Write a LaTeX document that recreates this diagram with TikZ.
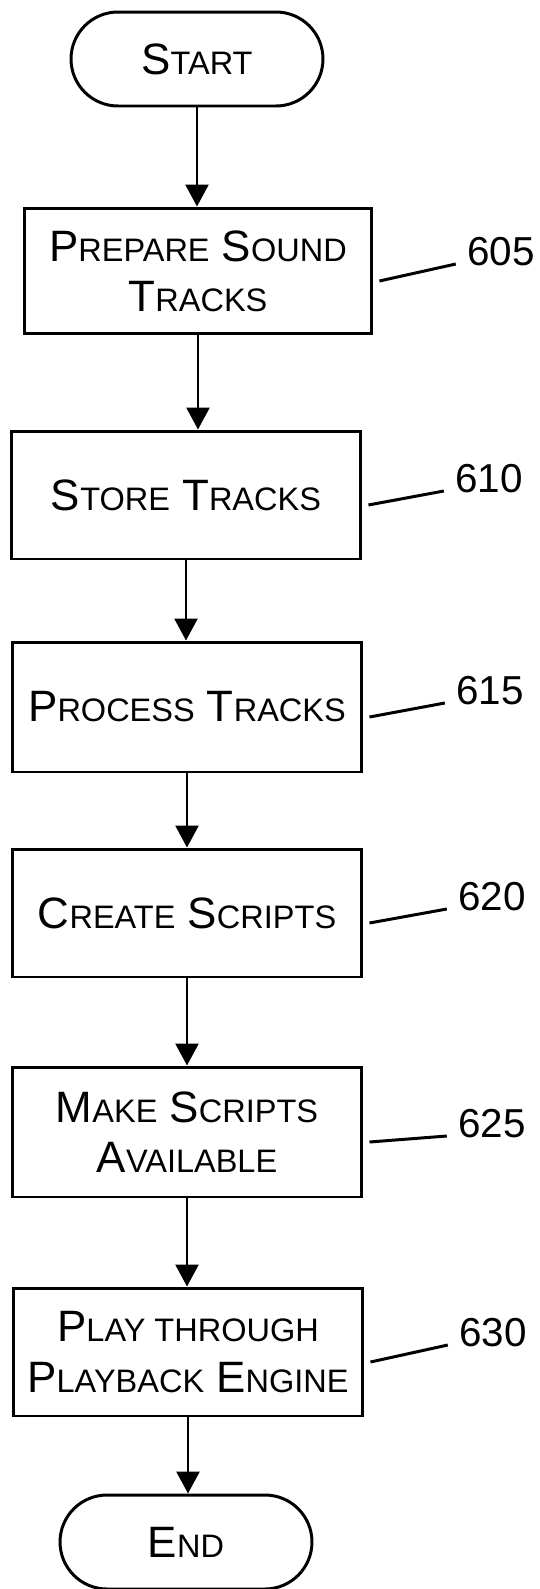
\documentclass[tikz,border=0pt]{standalone}
\usepackage{fontspec}
\setmainfont{Liberation Sans}
\usepackage{tikz}
\usetikzlibrary{arrows.meta}
\usetikzlibrary{positioning}
\usetikzlibrary{calc}
\newcommand{\smc}[1]{{\fontsize{18.5}{28.5}\selectfont #1}}
\tikzstyle{stepbox}=[draw,rectangle,minimum width=7cm,minimum height=2.56cm,inner sep=1pt,align=center,font=\fontsize{25}{28.5}\selectfont]
\tikzstyle{terminal}=[draw,rectangle,rounded corners=0.94cm,minimum width=5.04cm,minimum height=1.88cm,inner sep=1pt,font=\fontsize{25}{28.5}\selectfont]
\tikzstyle{refnum}=[font=\fontsize{23}{26}\selectfont,inner sep=0pt]
\tikzstyle{flow}=[-{Triangle[length=12.5pt,width=13pt]}]

\begin{document}
\begin{tikzpicture}[x=0.02cm,y=-0.02cm,line width=1.7pt]
\useasboundingbox (0,0) rectangle (540,1589);
    \node [terminal] (start) at (197,59) {S\smc{TART}};
    \node [stepbox,minimum width=6.96cm,minimum height=2.52cm] (s605) at (198,271)
      {P\smc{REPARE} S\smc{OUND}\\T\smc{RACKS}};
    \node [stepbox] (s610) at (186,495) {S\smc{TORE} T\smc{RACKS}};
    \node [stepbox,minimum height=2.6cm] (s615) at (187,707) {P\smc{ROCESS} T\smc{RACKS}};
    \node [stepbox] (s620) at (187,913) {C\smc{REATE} S\smc{CRIPTS}};
    \node [stepbox,minimum height=2.6cm] (s625) at (187,1132) {M\smc{AKE} S\smc{CRIPTS}\\A\smc{VAILABLE}};
    \node [stepbox] (s630) at (188,1352) {P\smc{LAY THROUGH}\\P\smc{LAYBACK} E\smc{NGINE}};
    \node [terminal] (end) at (186,1542) {E\smc{ND}};
% reference numbers
    \node [refnum] (l605) at (501,252) {605};
    \node [refnum] (l610) at (489,479) {610};
    \node [refnum] (l615) at (490,691) {615};
    \node [refnum] (l620) at (492,897) {620};
    \node [refnum] (l625) at (492,1124) {625};
    \node [refnum] (l630) at (493,1333) {630};
\foreach \n in {605,610,615,620,625,630}
  \draw ([shift={(6,10)}]s\n.east) -- ([shift={(-10,12)}]l\n.west);
% flow
\draw[flow] (start.south) -- (start.south |- s605.north);
\draw[flow] (s605.south) -- (s605.south |- s610.north);
\draw[flow] (s610.south) -- (s610.south |- s615.north);
\draw[flow] (s615.south) -- (s615.south |- s620.north);
\draw[flow] (s620.south) -- (s620.south |- s625.north);
\draw[flow] (s625.south) -- (s625.south |- s630.north);
\draw[flow] (s630.south) -- (s630.south |- end.north);
\end{tikzpicture}
\end{document}
